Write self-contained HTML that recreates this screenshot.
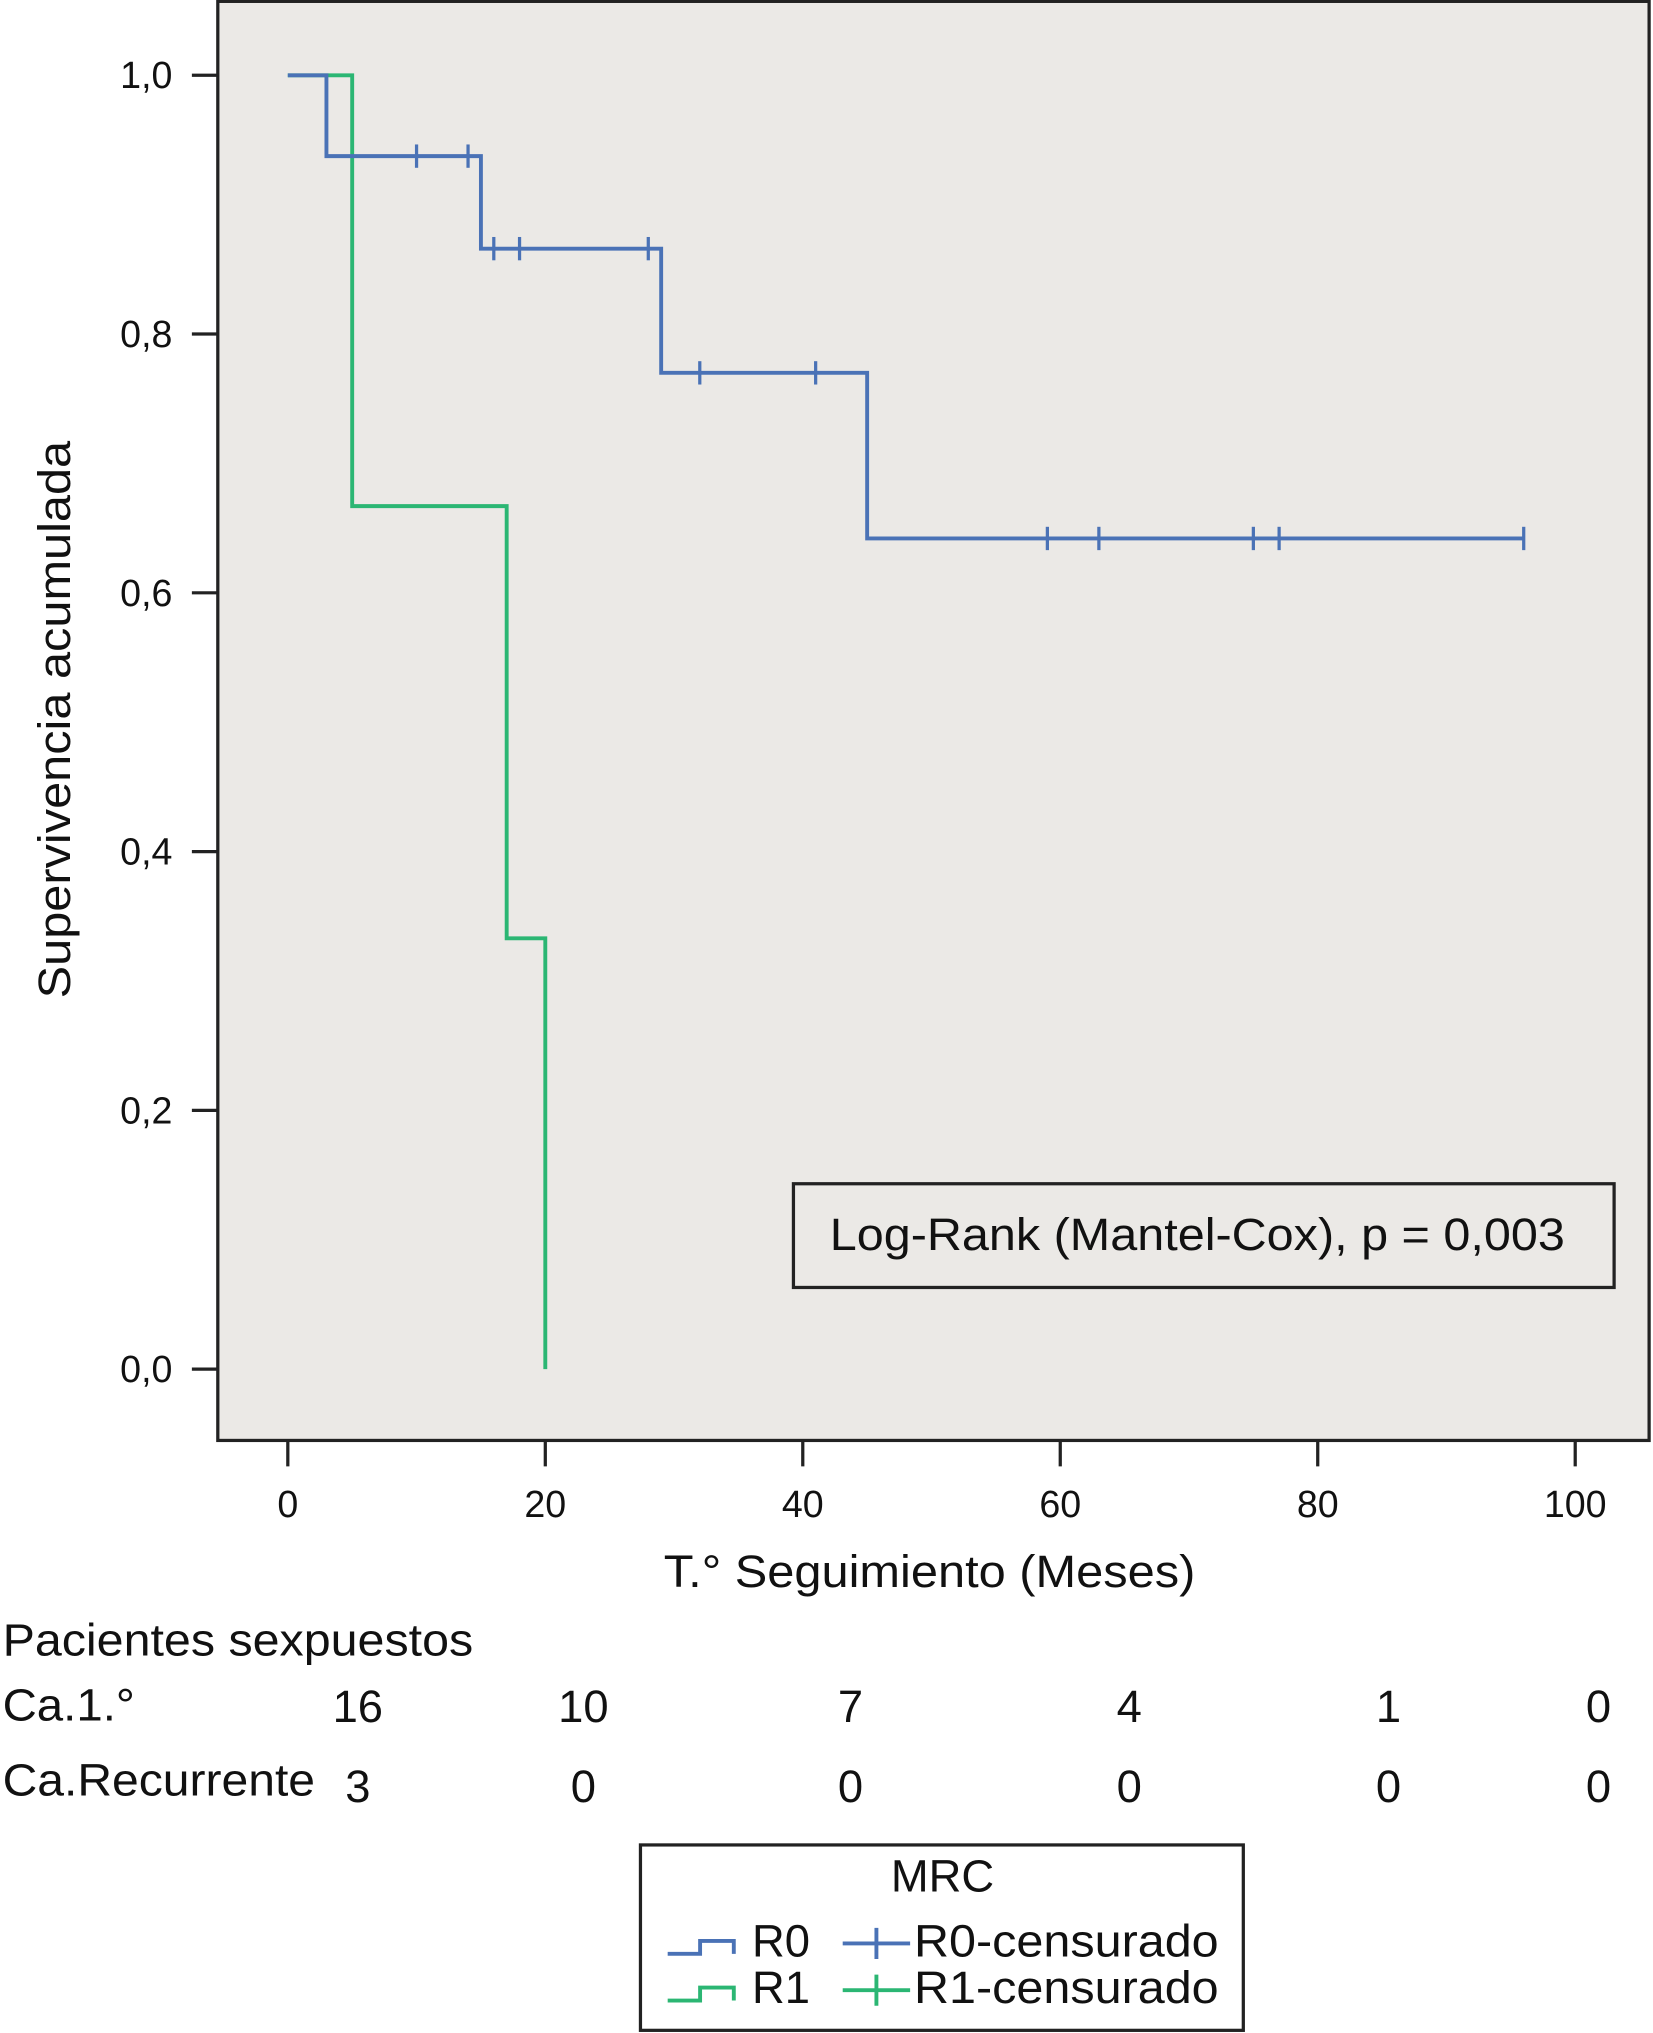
<!DOCTYPE html>
<html><head><meta charset="utf-8"><style>
html,body{margin:0;padding:0;background:#fff}
svg{display:block}
text{font-family:"Liberation Sans",Arial,sans-serif;fill:#111}
</style></head><body>
<svg width="1653" height="2033" viewBox="0 0 1275 1568" xmlns="http://www.w3.org/2000/svg">
<rect x="168" y="1" width="1104" height="1110" fill="#ebe9e6" stroke="#222" stroke-width="2.5"/>
<g id="axes"></g>
<g id="series"></g>
<text transform="translate(54,555) rotate(-90)" text-anchor="middle" font-size="35" textLength="430" lengthAdjust="spacingAndGlyphs">Supervivencia acumulada</text>
<text x="512" y="1224" font-size="35" textLength="410" lengthAdjust="spacingAndGlyphs">T.° Seguimiento (Meses)</text>
<rect x="612" y="913" width="633" height="80" fill="#ebe9e6" stroke="#222" stroke-width="2.5"/>
<text x="640" y="964" font-size="35" textLength="567" lengthAdjust="spacingAndGlyphs">Log-Rank (Mantel-Cox), p = 0,003</text>
<text x="2" y="1277" font-size="35" textLength="363" lengthAdjust="spacingAndGlyphs">Pacientes sexpuestos</text>
<text x="2" y="1327" font-size="35" textLength="102" lengthAdjust="spacingAndGlyphs">Ca.1.°</text>
<text x="2" y="1385" font-size="35" textLength="241" lengthAdjust="spacingAndGlyphs">Ca.Recurrente</text>
<g id="risk"></g>
<g>
<rect x="494" y="1423" width="465" height="143" fill="#fff" stroke="#222" stroke-width="2.5"/>
<text x="727" y="1459" text-anchor="middle" font-size="35">MRC</text>
<path d="M515,1507 H540 V1497 H566 V1507" fill="none" stroke="#4a72b6" stroke-width="3"/>
<text x="580" y="1509" font-size="35">R0</text>
<path d="M515,1543 H540 V1533 H566 V1543" fill="none" stroke="#2bb673" stroke-width="3"/>
<text x="580" y="1545" font-size="35">R1</text>
<path d="M650,1499 H702 M676,1487 V1511" stroke="#4a72b6" stroke-width="3"/>
<text x="705" y="1509" font-size="35" textLength="235" lengthAdjust="spacingAndGlyphs">R0-censurado</text>
<path d="M650,1535 H702 M676,1523 V1547" stroke="#2bb673" stroke-width="3"/>
<text x="705" y="1545" font-size="35" textLength="235" lengthAdjust="spacingAndGlyphs">R1-censurado</text>
</g>
</svg>
<script>
const xTicks=[0,20,40,60,80,100];
const yTicks=[0,0.2,0.4,0.6,0.8,1.0];
const yTickLabels=["0,0","0,2","0,4","0,6","0,8","1,0"];
const r0Times=[3,15,29,45];
const r0Surv=[0.9375,0.866,0.770,0.642];
const r0End=96;
const r0Censor=[10,14,16,18,28,32,41,59,63,75,77,96];
const r1Times=[5,17,20];
const r1Surv=[0.667,0.333,0];
const r1End=20;
const r1Censor=[];
const riskCols=[276,450,656,871,1071,1233];
const riskPrimary=[16,10,7,4,1,0];
const riskRecurrent=[3,0,0,0,0,0];
const NS="http://www.w3.org/2000/svg";
const X=t=>222+t*9.93, Y=s=>1056-s*998;
function mk(tag,attrs,parent){const e=document.createElementNS(NS,tag);for(const k in attrs)e.setAttribute(k,attrs[k]);parent.appendChild(e);return e;}
const ax=document.getElementById('axes');
xTicks.forEach(t=>{
 const l=mk('line',{x1:X(t),x2:X(t),y1:1111,y2:1131,stroke:'#222','stroke-width':2.5},ax);
 
 
 const tx=mk('text',{x:X(t),y:1170,'text-anchor':'middle','font-size':29},ax);tx.textContent=t;
 
 
});
yTicks.forEach((v,i)=>{
 const l=mk('line',{x1:148,x2:168,y1:Y(v),y2:Y(v),stroke:'#222','stroke-width':2.5},ax);
 
 
 const tx=mk('text',{x:133,y:Y(v)+10,'text-anchor':'end','font-size':29},ax);tx.textContent=yTickLabels[i];
 
 
});
const sg=document.getElementById('series');
function km(times,surv,end,cens,color,name){
 let d=`M${X(0)},${Y(1)}`;
 times.forEach((t,i)=>{d+=` H${X(t)} V${Y(surv[i])}`;});
 d+=` H${X(end)}`;
 const p=mk('path',{d:d,fill:'none',stroke:color,'stroke-width':3},sg);
 
 
 cens.forEach(c=>{
  let v=1;times.forEach((t,i)=>{if(c>=t)v=surv[i];});
  const m=mk('line',{x1:X(c),x2:X(c),y1:Y(v)-9,y2:Y(v)+9,stroke:color,'stroke-width':2.5},sg);
  
  
 });
}
km(r1Times,r1Surv,r1End,r1Censor,'#2bb673','r1');
km(r0Times,r0Surv,r0End,r0Censor,'#4a72b6','r0');
const rg=document.getElementById('risk');
riskCols.forEach((x,i)=>{
 const a=mk('text',{x:x,y:1328,'text-anchor':'middle','font-size':35},rg);a.textContent=riskPrimary[i];
 
 
 const b=mk('text',{x:x,y:1390,'text-anchor':'middle','font-size':35},rg);b.textContent=riskRecurrent[i];
 
 
});
</script>
</body></html>
